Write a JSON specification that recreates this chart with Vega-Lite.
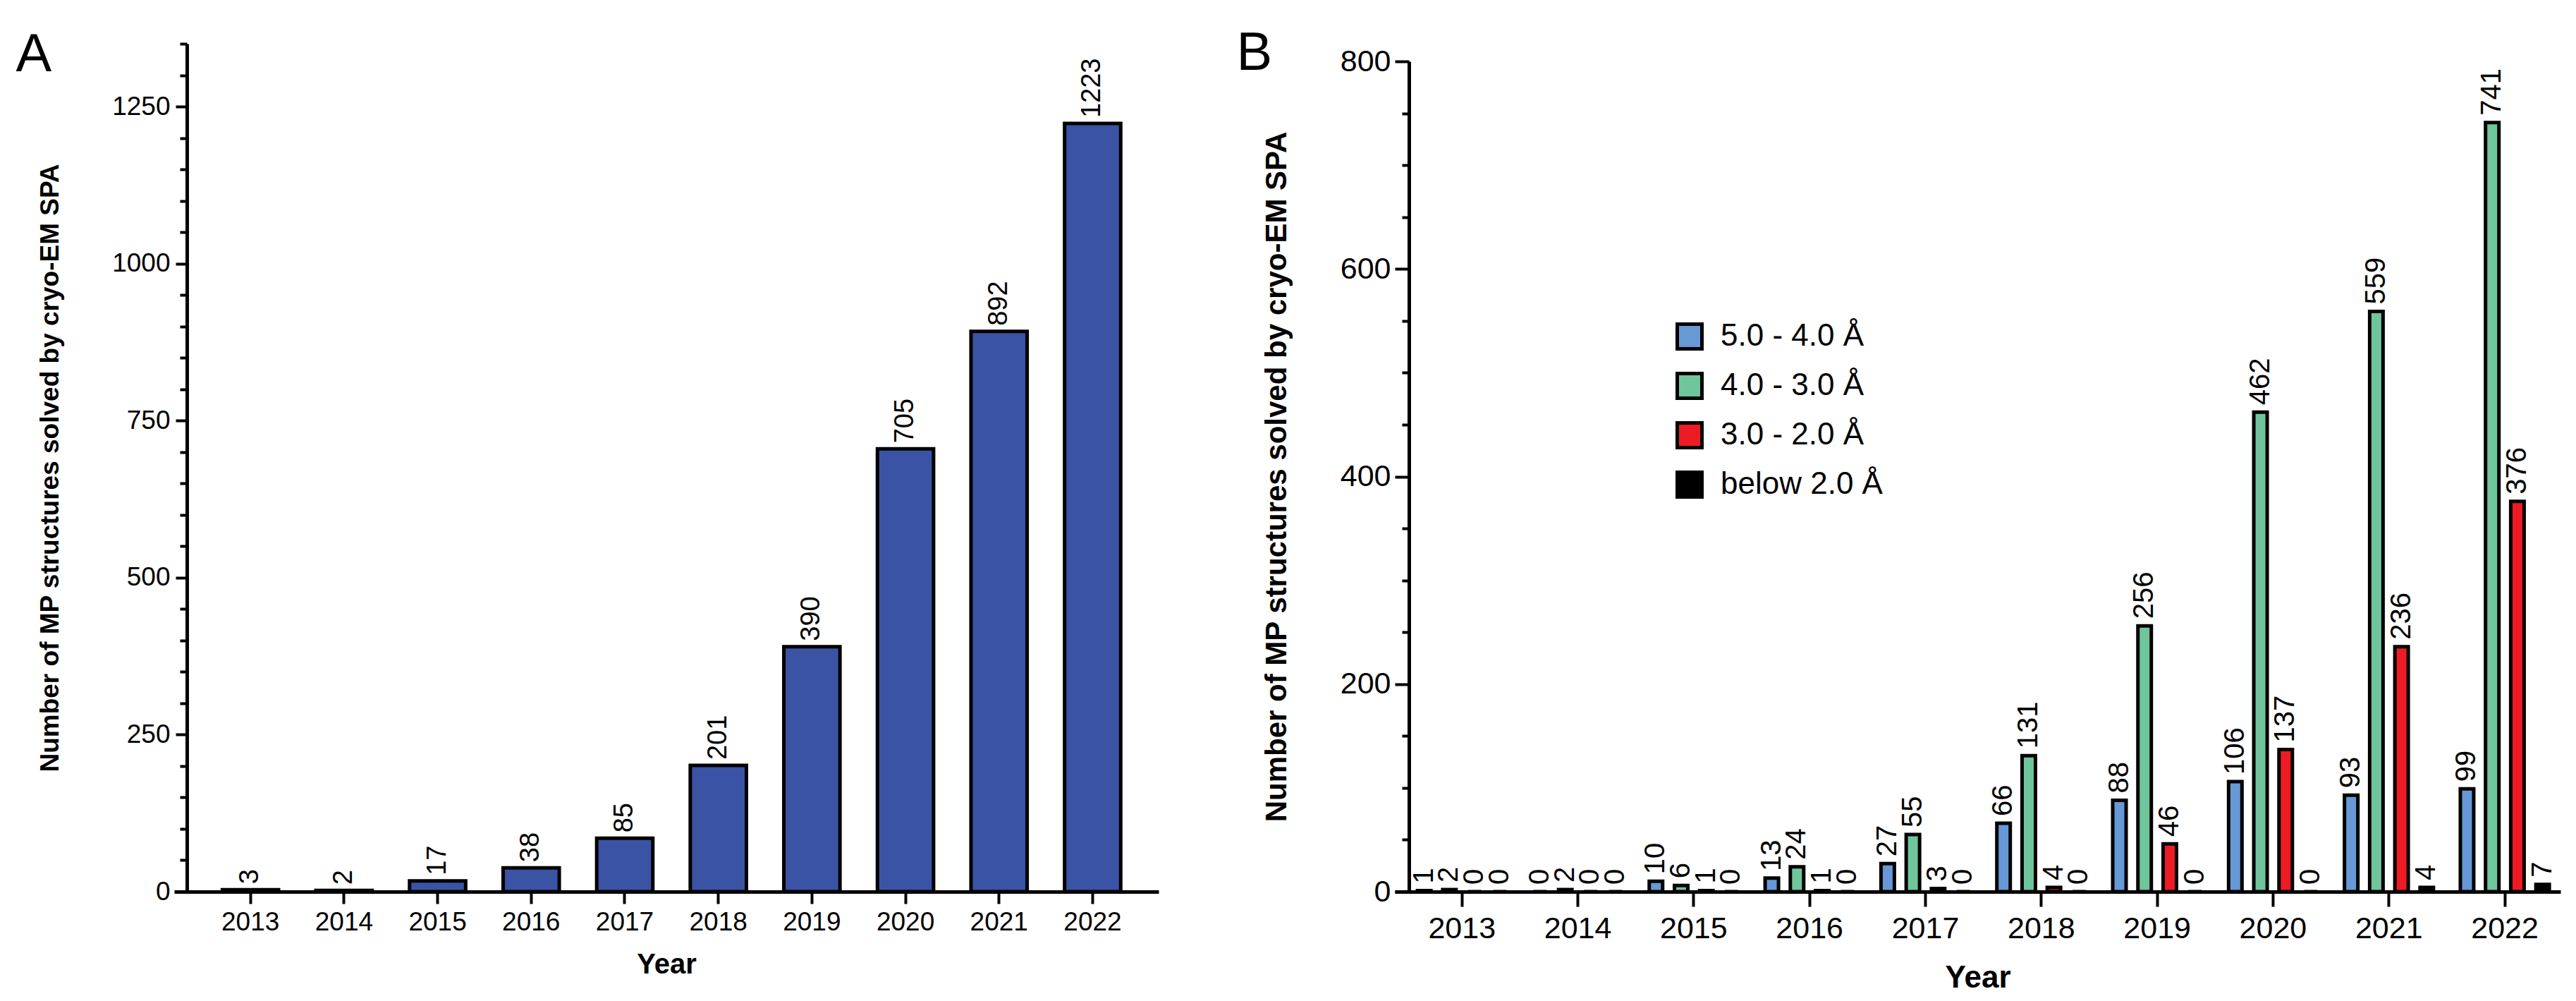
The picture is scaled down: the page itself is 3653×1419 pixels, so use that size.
{
  "$schema": "https://vega.github.io/schema/vega-lite/v6.json",
  "background": "white",
  "padding": {"left": 22, "top": 37, "right": 10, "bottom": 10},
  "config": {
    "view": {"stroke": null},
    "font": "Liberation Sans",
    "axis": {"domainColor": "black", "tickColor": "black", "labelColor": "black", "titleColor": "black", "grid": false, "labelFont": "Liberation Sans", "titleFont": "Liberation Sans"}
  },
  "datasets": {
    "total": [
      {"year": "2013", "count": 3}, {"year": "2014", "count": 2}, {"year": "2015", "count": 17},
      {"year": "2016", "count": 38}, {"year": "2017", "count": 85}, {"year": "2018", "count": 201},
      {"year": "2019", "count": 390}, {"year": "2020", "count": 705}, {"year": "2021", "count": 892},
      {"year": "2022", "count": 1223}
    ],
    "res": [
      {"year": "2013", "res": "5.0 - 4.0 Å", "count": 1}, {"year": "2013", "res": "4.0 - 3.0 Å", "count": 2}, {"year": "2013", "res": "3.0 - 2.0 Å", "count": 0}, {"year": "2013", "res": "below 2.0 Å", "count": 0},
      {"year": "2014", "res": "5.0 - 4.0 Å", "count": 0}, {"year": "2014", "res": "4.0 - 3.0 Å", "count": 2}, {"year": "2014", "res": "3.0 - 2.0 Å", "count": 0}, {"year": "2014", "res": "below 2.0 Å", "count": 0},
      {"year": "2015", "res": "5.0 - 4.0 Å", "count": 10}, {"year": "2015", "res": "4.0 - 3.0 Å", "count": 6}, {"year": "2015", "res": "3.0 - 2.0 Å", "count": 1}, {"year": "2015", "res": "below 2.0 Å", "count": 0},
      {"year": "2016", "res": "5.0 - 4.0 Å", "count": 13}, {"year": "2016", "res": "4.0 - 3.0 Å", "count": 24}, {"year": "2016", "res": "3.0 - 2.0 Å", "count": 1}, {"year": "2016", "res": "below 2.0 Å", "count": 0},
      {"year": "2017", "res": "5.0 - 4.0 Å", "count": 27}, {"year": "2017", "res": "4.0 - 3.0 Å", "count": 55}, {"year": "2017", "res": "3.0 - 2.0 Å", "count": 3}, {"year": "2017", "res": "below 2.0 Å", "count": 0},
      {"year": "2018", "res": "5.0 - 4.0 Å", "count": 66}, {"year": "2018", "res": "4.0 - 3.0 Å", "count": 131}, {"year": "2018", "res": "3.0 - 2.0 Å", "count": 4}, {"year": "2018", "res": "below 2.0 Å", "count": 0},
      {"year": "2019", "res": "5.0 - 4.0 Å", "count": 88}, {"year": "2019", "res": "4.0 - 3.0 Å", "count": 256}, {"year": "2019", "res": "3.0 - 2.0 Å", "count": 46}, {"year": "2019", "res": "below 2.0 Å", "count": 0},
      {"year": "2020", "res": "5.0 - 4.0 Å", "count": 106}, {"year": "2020", "res": "4.0 - 3.0 Å", "count": 462}, {"year": "2020", "res": "3.0 - 2.0 Å", "count": 137}, {"year": "2020", "res": "below 2.0 Å", "count": 0},
      {"year": "2021", "res": "5.0 - 4.0 Å", "count": 93}, {"year": "2021", "res": "4.0 - 3.0 Å", "count": 559}, {"year": "2021", "res": "3.0 - 2.0 Å", "count": 236}, {"year": "2021", "res": "below 2.0 Å", "count": 4},
      {"year": "2022", "res": "5.0 - 4.0 Å", "count": 99}, {"year": "2022", "res": "4.0 - 3.0 Å", "count": 741}, {"year": "2022", "res": "3.0 - 2.0 Å", "count": 376}, {"year": "2022", "res": "below 2.0 Å", "count": 7}
    ]
  },
  "bounds": "flush",
  "spacing": 335,
  "hconcat": [
    {
      "width": 1396,
      "height": 1202,
      "data": {"name": "total"},
      "resolve": {"axis": {"x": "independent"}},
      "encoding": {
        "x": {
          "field": "year", "type": "nominal", "sort": null,
          "scale": {"paddingInner": 0.4, "paddingOuter": 0.46, "align": 0.56},
          "axis": {"title": "Year", "titleFontSize": 40, "titleFontWeight": "bold", "titlePadding": 22, "labelAngle": 0, "labelFontSize": 37, "labelPadding": 8, "tickSize": 17, "tickWidth": 4, "domainWidth": 5}
        },
        "y": {
          "field": "count", "type": "quantitative",
          "scale": {"domain": [0, 1350], "nice": false},
          "axis": {
            "title": "Number of MP structures solved by cryo-EM SPA", "titleFontSize": 37, "titleFontWeight": "bold", "titlePadding": 68,
            "values": [0, 50, 100, 150, 200, 250, 300, 350, 400, 450, 500, 550, 600, 650, 700, 750, 800, 850, 900, 950, 1000, 1050, 1100, 1150, 1200, 1250, 1300, 1350],
            "format": "d",
            "labelExpr": "datum.value % 250 === 0 ? datum.label : ''",
            "tickSize": {"condition": {"test": "datum.value % 250 === 0", "value": 16}, "value": 10},
            "tickWidth": 4, "domainWidth": 5, "labelFontSize": 37, "labelPadding": 8, "offset": -18
          }
        }
      },
      "layer": [
        {"mark": {"type": "bar", "color": "#3A53A4", "stroke": "black", "strokeWidth": 5}},
        {"mark": {"type": "text", "angle": 270, "align": "left", "baseline": "middle", "dx": 8, "fontSize": 38, "color": "black"},
         "encoding": {
           "x": {"field": "year", "type": "nominal", "sort": null,
                 "axis": {"orient": "top", "title": "A", "domain": false, "ticks": false, "labels": false, "titleX": -225, "titleY": 38, "titleAlign": "left", "titleBaseline": "alphabetic", "titleAngle": 0, "titleFontSize": 76, "titleFontWeight": "normal"}},
           "text": {"field": "count", "type": "quantitative"}
         }}
      ]
    },
    {
      "width": 1653,
      "height": 1202,
      "data": {"name": "res"},
      "resolve": {"axis": {"x": "independent"}},
      "encoding": {
        "x": {
          "field": "year", "type": "nominal", "sort": null,
          "scale": {"paddingInner": 0.232, "paddingOuter": 0.146, "align": 0.67},
          "axis": {"title": "Year", "titleFontSize": 44, "titleFontWeight": "bold", "titlePadding": 26, "labelAngle": 0, "labelFontSize": 43, "labelPadding": 10, "tickSize": 21, "tickWidth": 4, "domainWidth": 5}
        },
        "xOffset": {
          "field": "res", "type": "nominal",
          "sort": ["5.0 - 4.0 Å", "4.0 - 3.0 Å", "3.0 - 2.0 Å", "below 2.0 Å"],
          "scale": {"paddingInner": 0.468, "paddingOuter": 0}
        },
        "y": {
          "field": "count", "type": "quantitative",
          "scale": {"domain": [0, 800], "nice": false, "range": [1202, 25]},
          "axis": {
            "title": "Number of MP structures solved by cryo-EM SPA", "titleFontSize": 42, "titleFontWeight": "bold", "titlePadding": 68,
            "values": [0, 50, 100, 150, 200, 250, 300, 350, 400, 450, 500, 550, 600, 650, 700, 750, 800],
            "format": "d",
            "labelExpr": "datum.value % 200 === 0 ? datum.label : ''",
            "tickSize": {"condition": {"test": "datum.value % 200 === 0", "value": 20}, "value": 10},
            "tickWidth": 4, "domainWidth": 5, "labelFontSize": 43, "labelPadding": 6, "offset": -20
          }
        }
      },
      "layer": [
        {
          "mark": {"type": "bar", "stroke": "black", "strokeWidth": 5},
          "encoding": {
            "color": {
              "field": "res", "type": "nominal",
              "scale": {"domain": ["5.0 - 4.0 Å", "4.0 - 3.0 Å", "3.0 - 2.0 Å", "below 2.0 Å"], "range": ["#6699D5", "#6FC69C", "#ED1C24", "#000000"]},
              "legend": {
                "title": null, "orient": "none", "legendX": 2127, "legendY": 393,
                "symbolType": "square", "symbolSize": 1225, "symbolStrokeColor": "black", "symbolStrokeWidth": 5, "symbolOpacity": 1,
                "labelFontSize": 44, "labelColor": "black", "labelOffset": 22, "rowPadding": 14, "labelLimit": 0, "labelFont": "Liberation Sans"
              }
            }
          }
        },
        {
          "mark": {"type": "text", "angle": 270, "align": "left", "baseline": "middle", "dx": 10, "fontSize": 40, "color": "black"},
          "encoding": {
            "x": {"field": "year", "type": "nominal", "sort": null,
                  "axis": {"orient": "top", "title": "B", "domain": false, "ticks": false, "labels": false, "titleX": -225, "titleY": 36, "titleAlign": "left", "titleBaseline": "alphabetic", "titleAngle": 0, "titleFontSize": 76, "titleFontWeight": "normal"}},
            "text": {"field": "count", "type": "quantitative"}
          }
        }
      ]
    }
  ]
}
